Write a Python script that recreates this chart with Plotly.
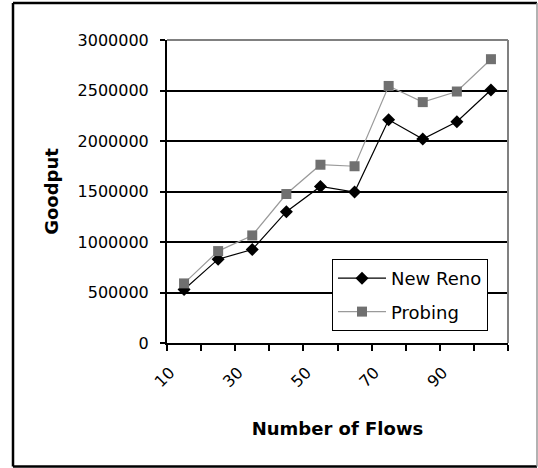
import plotly.graph_objects as go

# ---- data ----
flows = [10, 20, 30, 40, 50, 60, 70, 80, 90, 100]
new_reno = [530000, 830000, 925000, 1300000, 1550000, 1495000, 2210000, 2020000, 2190000, 2505000]
probing = [590000, 910000, 1065000, 1475000, 1765000, 1750000, 2545000, 2385000, 2490000, 2810000]
x_label_vals = [10, 30, 50, 70, 90]
x_label_text = ["10", "30", "50", "70", "90"]
y_ticks = [0, 500000, 1000000, 1500000, 2000000, 2500000, 3000000]
x_boundaries = [f - 5 for f in flows] + [flows[-1] + 5]

W, H = 538, 468
ML, MR, MT, MB = 167, 30, 40, 125
PW, PH = W - ML - MR, H - MT - MB


def px(xp):
    return (xp - ML) / PW


def py(yp):
    return (H - MB - yp) / PH


FONT = "DejaVu Sans"

fig = go.Figure()
fig.add_trace(go.Scatter(
    x=flows, y=new_reno, name="New Reno", mode="lines+markers",
    line=dict(color="black", width=1.2),
    marker=dict(symbol="diamond", size=10, color="black"),
    legendgroup="a",
))
fig.add_trace(go.Scatter(
    x=flows, y=probing, name="Probing", mode="lines+markers",
    line=dict(color="#9a9a9a", width=1.2),
    marker=dict(symbol="square", size=10, color="#707070"),
    legendgroup="b",
))

fig.update_layout(
    width=W, height=H,
    margin=dict(l=ML, r=MR, t=MT, b=MB),
    paper_bgcolor="white", plot_bgcolor="white",
    font=dict(family=FONT, color="black", size=16),
    showlegend=True,
    legend=dict(
        x=px(332), y=py(259), xanchor="left", yanchor="top",
        bgcolor="white", bordercolor="black", borderwidth=1,
        font=dict(family=FONT, size=18, color="black"),
        tracegroupgap=7, itemwidth=48,
    ),
    xaxis=dict(
        range=[5, 105], tickmode="array", tickvals=x_label_vals, ticktext=x_label_text,
        ticks="", tickangle=-45, showgrid=False, zeroline=False,
        showline=True, linecolor="black", linewidth=2,
        tickfont=dict(family=FONT, size=16),
        ticklabelstandoff=12, ticklabelshift=-14,
        minor=dict(tickmode="array", tickvals=x_boundaries, ticks="outside",
                   ticklen=6, tickcolor="black", tickwidth=2, showgrid=False),
        title=dict(text="<b>Number of Flows</b>", font=dict(family=FONT, size=18), standoff=32),
        automargin=False, fixedrange=True,
    ),
    yaxis=dict(
        range=[0, 3000000], tickmode="array", tickvals=y_ticks, tickformat="d",
        ticks="outside", ticklen=5, tickcolor="black", tickwidth=2,
        showgrid=True, gridcolor="black", gridwidth=1.5, zeroline=False,
        showline=True, linecolor="black", linewidth=2,
        tickfont=dict(family=FONT, size=16), ticklabelstandoff=8,
        title=dict(text="<b>Goodput</b>", font=dict(family=FONT, size=18), standoff=14),
        automargin=False, fixedrange=True,
    ),
)

# plot area border (gray) on top and right
fig.add_shape(type="line", xref="paper", yref="paper", x0=0, x1=1, y0=1, y1=1,
              line=dict(color="#808080", width=2), layer="above")
fig.add_shape(type="line", xref="paper", yref="paper", x0=1, x1=1, y0=0, y1=1,
              line=dict(color="#808080", width=2), layer="above")

# outer chart frame
fx0, fx1, fy0, fy1 = px(13), px(537), py(466.5), py(3)
fig.add_shape(type="line", xref="paper", yref="paper", x0=fx0, x1=fx1, y0=fy1, y1=fy1,
              line=dict(color="black", width=2.5))
fig.add_shape(type="line", xref="paper", yref="paper", x0=fx0, x1=fx0, y0=fy0, y1=fy1,
              line=dict(color="black", width=2.5))
fig.add_shape(type="line", xref="paper", yref="paper", x0=fx0, x1=fx1, y0=fy0, y1=fy0,
              line=dict(color="black", width=2.5))
fig.add_shape(type="line", xref="paper", yref="paper", x0=fx1, x1=fx1, y0=fy0, y1=fy1,
              line=dict(color="#999999", width=1.5))

fig.write_html("out.html")
